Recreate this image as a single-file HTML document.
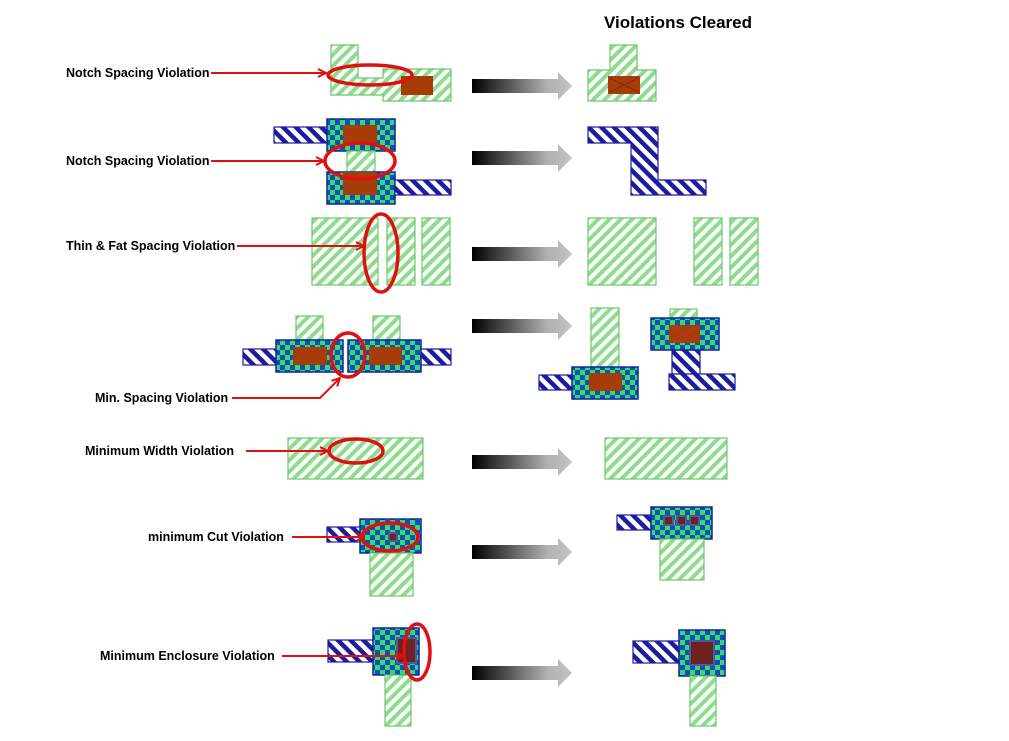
<!DOCTYPE html>
<html><head><meta charset="utf-8"><style>
html,body{margin:0;padding:0;background:#fff;}
svg{display:block;font-family:"Liberation Sans",sans-serif;}
</style></head><body>
<svg width="1009" height="741" viewBox="0 0 1009 741" xmlns="http://www.w3.org/2000/svg">
<defs>
<pattern id="gh" width="8" height="8" patternUnits="userSpaceOnUse" patternTransform="rotate(45)">
<rect width="8" height="8" fill="#fff"/><rect width="4" height="8" fill="#8fdc8f"/></pattern>
<pattern id="bh" width="9" height="9" patternUnits="userSpaceOnUse" patternTransform="rotate(-45)">
<rect width="9" height="9" fill="#fff"/><rect width="4.5" height="9" fill="#1c1c9c"/></pattern>
<pattern id="ck" width="10" height="10" patternUnits="userSpaceOnUse">
<rect width="10" height="10" fill="#1a4ab8"/><rect width="5" height="5" fill="#2ee06a"/><rect x="5" y="5" width="5" height="5" fill="#2ee06a"/></pattern>
<linearGradient id="ag" x1="0" x2="1" y1="0" y2="0"><stop offset="0" stop-color="#000"/><stop offset="0.75" stop-color="#b0b0b0"/><stop offset="1" stop-color="#c4c4c4"/></linearGradient>
<marker id="ah" markerWidth="10" markerHeight="10" refX="9" refY="5" orient="auto" markerUnits="userSpaceOnUse"><path d="M1,1 L9,5 L1,9" fill="none" stroke="#e01010" stroke-width="2"/></marker>
<g id="arr"><path d="M0,-7 H86 V-14 L100,0 L86,14 V7 H0 Z" fill="url(#ag)"/></g>
</defs>
<style>
.g{fill:url(#gh);stroke:#6cc86c;stroke-width:1.2}
.b{fill:url(#bh);stroke:#1a1aa0;stroke-width:1.2}
.c{fill:url(#ck);stroke:#1022a8;stroke-width:1.5}
.br{fill:#a83c06}
.dk{fill:#6e2222;stroke:#4a5a9a;stroke-width:2}
.el{fill:none;stroke:#e01010;stroke-width:3.5}
.ln{stroke:#e01010;stroke-width:2;fill:none}
.t{font-size:12.5px;font-weight:bold;fill:#000}
</style>
<text x="678" y="28" text-anchor="middle" font-size="17" font-weight="bold">Violations Cleared</text>

<use href="#arr" x="472" y="86"/>
<use href="#arr" x="472" y="158"/>
<use href="#arr" x="472" y="254"/>
<use href="#arr" x="472" y="326"/>
<use href="#arr" x="472" y="462"/>
<use href="#arr" x="472" y="552"/>
<use href="#arr" x="472" y="673"/>

<!-- Row1 -->
<path class="g" d="M331,45 H358 V78 H383 V69 H451 V101 H383 V95 H331 Z"/>
<rect class="br" x="401" y="76" width="32" height="19"/>
<ellipse class="el" cx="370" cy="75" rx="42" ry="10"/>
<text class="t" x="66" y="77">Notch Spacing Violation</text>
<line class="ln" x1="211" y1="73" x2="326" y2="73" marker-end="url(#ah)"/>
<path class="g" d="M610,45 H637 V70 H656 V101 H588 V70 H610 Z"/>
<rect class="br" x="608" y="76" width="32" height="18"/>
<path d="M610,78 L638,92 M638,78 L610,92" stroke="#7a2a10" stroke-width="1"/>

<!-- Row2 -->
<rect class="b" x="274" y="127" width="54" height="16"/>
<rect class="c" x="327" y="119" width="68" height="32"/>
<rect class="br" x="343" y="125" width="34" height="20"/>
<rect class="g" x="347" y="151" width="28" height="21"/>
<rect class="c" x="327" y="172" width="68" height="32"/>
<rect class="br" x="343" y="172" width="34" height="23"/>
<rect class="b" x="395" y="180" width="56" height="15"/>
<ellipse class="el" cx="360" cy="161" rx="35" ry="18"/>
<text class="t" x="66" y="165">Notch Spacing Violation</text>
<line class="ln" x1="211" y1="161" x2="324" y2="161" marker-end="url(#ah)"/>
<path class="b" d="M588,127 H658 V180 H706 V195 H631 V143 H588 Z"/>

<!-- Row3 -->
<rect class="g" x="312" y="218" width="66" height="67"/>
<rect class="g" x="387" y="218" width="28" height="67"/>
<rect class="g" x="422" y="218" width="28" height="67"/>
<ellipse class="el" cx="381" cy="253" rx="17" ry="39"/>
<text class="t" x="66" y="250">Thin &amp; Fat Spacing Violation</text>
<line class="ln" x1="237" y1="246" x2="364" y2="246" marker-end="url(#ah)"/>
<rect class="g" x="588" y="218" width="68" height="67"/>
<rect class="g" x="694" y="218" width="28" height="67"/>
<rect class="g" x="730" y="218" width="28" height="67"/>

<!-- Row4 -->
<rect class="g" x="296" y="316" width="27" height="24"/>
<rect class="g" x="373" y="316" width="27" height="24"/>
<rect class="b" x="243" y="349" width="34" height="16"/>
<rect class="b" x="420" y="349" width="31" height="16"/>
<rect class="c" x="276" y="340" width="67" height="32"/>
<rect class="c" x="348" y="340" width="73" height="32"/>
<rect class="br" x="293" y="347" width="34" height="18"/>
<rect class="br" x="369" y="347" width="33" height="18"/>
<ellipse class="el" cx="348" cy="355" rx="17" ry="22"/>
<text class="t" x="95" y="402">Min. Spacing Violation</text>
<path class="ln" d="M232,398 H320 L340,378" marker-end="url(#ah)"/>
<rect class="g" x="591" y="308" width="28" height="59"/>
<rect class="b" x="539" y="375" width="34" height="15"/>
<rect class="c" x="572" y="367" width="66" height="32"/>
<rect class="br" x="589" y="373" width="33" height="18"/>
<rect class="g" x="670" y="309" width="27" height="9"/>
<rect class="b" x="672" y="350" width="28" height="24"/>
<rect class="b" x="669" y="374" width="66" height="16"/>
<rect class="c" x="651" y="318" width="68" height="32"/>
<rect class="br" x="669" y="325" width="31" height="18"/>
<path d="M671,327 L698,341 M698,327 L671,341" stroke="#c03030" stroke-width="1"/>

<!-- Row5 -->
<rect class="g" x="288" y="438" width="135" height="41"/>
<ellipse class="el" cx="356" cy="451" rx="27" ry="12"/>
<text class="t" x="85" y="455">Minimum Width Violation</text>
<line class="ln" x1="246" y1="451" x2="328" y2="451" marker-end="url(#ah)"/>
<rect class="g" x="605" y="438" width="122" height="41"/>

<!-- Row6 -->
<rect class="b" x="327" y="527" width="34" height="15"/>
<rect class="c" x="360" y="519" width="61" height="34"/>
<rect class="g" x="370" y="553" width="43" height="43"/>
<rect x="389" y="533" width="8" height="8" class="dk" stroke-width="1"/>
<ellipse class="el" cx="390" cy="537" rx="28" ry="14"/>
<text class="t" x="148" y="541">minimum Cut Violation</text>
<line class="ln" x1="292" y1="537" x2="364" y2="537" marker-end="url(#ah)"/>
<rect class="b" x="617" y="515" width="34" height="15"/>
<rect class="c" x="651" y="507" width="61" height="32"/>
<rect class="g" x="660" y="539" width="44" height="41"/>
<rect class="dk" x="664" y="516" width="9" height="9" stroke-width="1.5"/>
<rect class="dk" x="677" y="516" width="9" height="9" stroke-width="1.5"/>
<rect class="dk" x="690" y="516" width="9" height="9" stroke-width="1.5"/>

<!-- Row7 -->
<rect class="b" x="328" y="640" width="45" height="22"/>
<rect class="c" x="373" y="628" width="46" height="47"/>
<rect class="g" x="385" y="675" width="26" height="51"/>
<rect class="dk" x="397" y="638" width="19" height="25"/>
<ellipse class="el" cx="417" cy="652" rx="13" ry="28"/>
<text class="t" x="100" y="660">Minimum Enclosure Violation</text>
<line class="ln" x1="282" y1="656" x2="404" y2="656" marker-end="url(#ah)"/>
<rect class="b" x="633" y="641" width="46" height="22"/>
<rect class="c" x="679" y="630" width="46" height="46"/>
<rect class="dk" x="690" y="641" width="24" height="24"/>
<rect class="g" x="690" y="676" width="26" height="50"/>
</svg>
</body></html>
